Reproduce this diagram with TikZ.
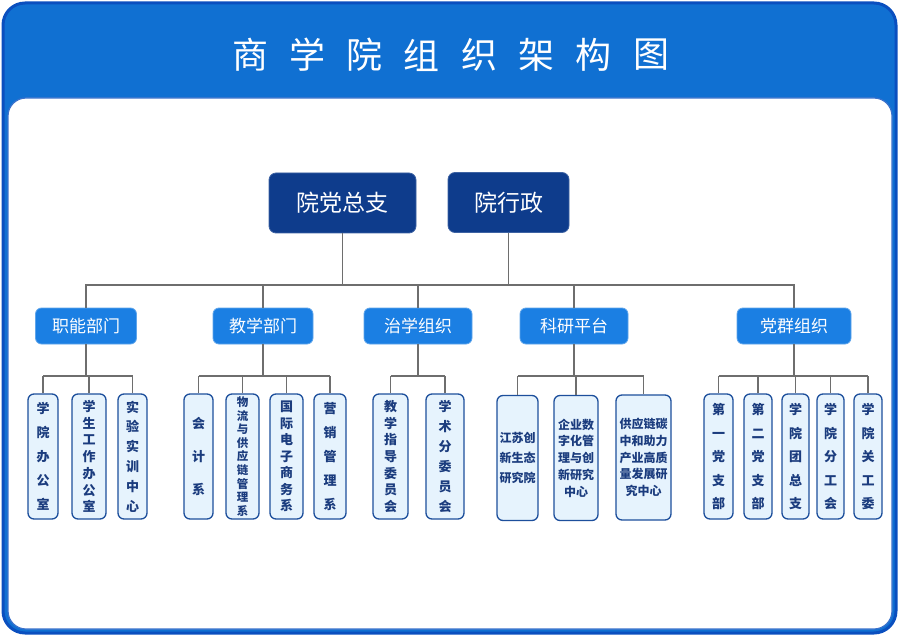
\documentclass[tikz,border=0pt]{standalone}
\usepackage{fontspec}
\setmainfont{Noto Sans CJK SC}
\definecolor{headblue}{HTML}{1070D2}
\definecolor{rimblue}{HTML}{0A4FBF}
\definecolor{navy}{HTML}{0E3C8C}
\definecolor{midblue}{HTML}{1B7FE3}
\definecolor{paleblue}{HTML}{E6F3FD}
\definecolor{edgeblue}{HTML}{1D4F9C}
\definecolor{inkblue}{HTML}{1B3C7E}
\definecolor{linegray}{HTML}{6E6E6E}
\tikzset{
  link/.style={draw=linegray, line width=1.2pt},
  titlechar/.style={text=white, font=\fontsize{36}{36}\selectfont, inner sep=0pt},
  topbox/.style={fill=navy, draw=navy!80!white, line width=0.8pt, rounded corners=7pt,
    text=white, font=\fontsize{23}{23}\selectfont, minimum height=60pt},
  midbox/.style={fill=midblue, draw=midblue!70!white, line width=0.8pt, rounded corners=6pt,
    text=white, font=\fontsize{17}{17}\selectfont, minimum height=36pt},
  lowbox/.style={fill=paleblue, draw=edgeblue, line width=1.3pt, rounded corners=6pt,
    text=inkblue, align=center, inner sep=0pt, minimum height=125pt,
    font=\bfseries\fontsize{13}{#1}\selectfont},
  lowbox/.default=20
}
\begin{document}
\begin{tikzpicture}[x=1pt,y=-1pt]
\useasboundingbox (0,0) rectangle (899,636);
% frame and header
\draw[fill=headblue, draw=rimblue, line width=3pt, rounded corners=22pt] (3,3) rectangle (896,633);
\draw[fill=white, draw=rimblue!80!white, line width=1.2pt, rounded corners=18pt] (8,98) rectangle (892,629);
\foreach \ch [count=\i from 0] in {商,学,院,组,织,架,构,图}
  \node[titlechar] (title\i) at (250+57.3*\i,55) {\ch};

% top level
\node[topbox, minimum width=147pt] (dangzongzhi) at (342.5,203) {院党总支};
\node[topbox, minimum width=121pt] (xingzheng) at (508.5,202.5) {院行政};

% second level
\node[midbox, minimum width=101pt] (zhineng) at (86,326) {职能部门};
\node[midbox, minimum width=100pt] (jiaoxue) at (263,326) {教学部门};
\node[midbox, minimum width=108pt] (zhixue) at (418,326) {治学组织};
\node[midbox, minimum width=108pt] (keyan) at (574,326) {科研平台};
\node[midbox, minimum width=114pt] (dangqun) at (794,326) {党群组织};

% third level
\node[lowbox=24, minimum width=30pt] (xybgs) at (43,456.5) {学\\院\\办\\公\\室};
\node[lowbox=16.7, minimum width=34pt] (xsgz) at (89,456.5) {学\\生\\工\\作\\办\\公\\室};
\node[lowbox=19.8, minimum width=29pt] (syzx) at (132.5,456.5) {实\\验\\实\\训\\中\\心};

\node[lowbox=33, minimum width=29pt] (kuaiji) at (198.5,456.5) {会\\计\\系};
\node[lowbox=13.6, minimum width=33pt, font=\bfseries\fontsize{11.5}{13.6}\selectfont] (wuliu) at (242.5,456.5) {物\\流\\与\\供\\应\\链\\管\\理\\系};
\node[lowbox=16.5, minimum width=33pt] (dianshang) at (286.5,456.5) {国\\际\\电\\子\\商\\务\\系};
\node[lowbox=24, minimum width=32pt] (yingxiao) at (330,456.5) {营\\销\\管\\理\\系};

\node[lowbox=16.7, minimum width=35pt] (jiaozhi) at (390.5,456.5) {教\\学\\指\\导\\委\\员\\会};
\node[lowbox=20, minimum width=38pt] (xueshu) at (445,456.5) {学\\术\\分\\委\\员\\会};

\node[lowbox=20, minimum width=41pt, font=\bfseries\fontsize{12}{20}\selectfont] (jiangsu) at (517.5,458) {江苏创\\新生态\\研究院};
\node[lowbox=16.7, minimum width=44pt, font=\bfseries\fontsize{12}{16.7}\selectfont] (qiye) at (576,458) {企业数\\字化管\\理与创\\新研究\\中心};
\node[lowbox=16.7, minimum width=55pt, font=\bfseries\fontsize{12}{16.7}\selectfont] (gongying) at (643.5,457.5) {供应链碳\\中和助力\\产业高质\\量发展研\\究中心};

\node[lowbox=23.5, minimum width=29pt] (diyi) at (718.5,456.5) {第\\一\\党\\支\\部};
\node[lowbox=23.5, minimum width=28pt] (dier) at (758,456.5) {第\\二\\党\\支\\部};
\node[lowbox=23.5, minimum width=27pt] (tuanzong) at (795.5,456.5) {学\\院\\团\\总\\支};
\node[lowbox=23.5, minimum width=27pt] (fengonghui) at (830.5,456.5) {学\\院\\分\\工\\会};
\node[lowbox=23.5, minimum width=28pt] (guangongwei) at (868,456.5) {学\\院\\关\\工\\委};

% connectors
\coordinate (bus) at (0,285);
\coordinate (sub) at (0,376);
\draw[link] (dangzongzhi.south) -- (dangzongzhi.south |- bus);
\draw[link] (xingzheng.south) -- (xingzheng.south |- bus);
\draw[link] (zhineng.north) -- (zhineng.north |- bus) -- (dangqun.north |- bus) -- (dangqun.north);
\foreach \m in {jiaoxue,zhixue,keyan}
  \draw[link] (\m.north) -- (\m.north |- bus);
\foreach \m/\a/\b in {zhineng/xybgs/syzx, jiaoxue/kuaiji/yingxiao, zhixue/jiaozhi/xueshu, keyan/jiangsu/gongying, dangqun/diyi/guangongwei} {
  \draw[link] (\m.south) -- (\m.south |- sub);
  \draw[link] (\a.north |- sub) -- (\b.north |- sub);
}
\foreach \c in {xybgs,xsgz,syzx,kuaiji,wuliu,dianshang,yingxiao,jiaozhi,xueshu,jiangsu,qiye,gongying,diyi,dier,tuanzong,fengonghui,guangongwei}
  \draw[link] (\c.north) -- (\c.north |- sub);
\end{tikzpicture}
\end{document}
